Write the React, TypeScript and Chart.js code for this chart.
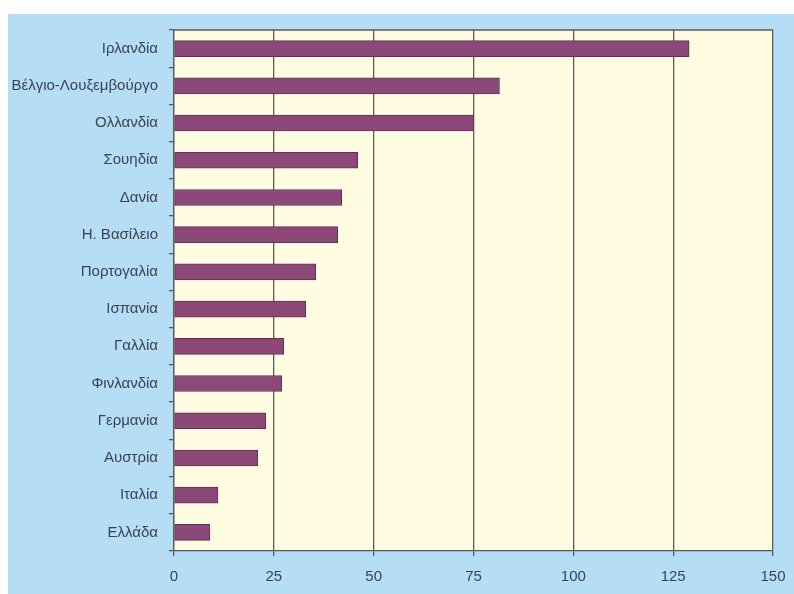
import { useEffect, useRef } from 'react';
import { Chart, registerables } from 'chart.js';

Chart.register(...registerables);

const categories = [
  'Ιρλανδία',
  'Βέλγιο-Λουξεμβούργο',
  'Ολλανδία',
  'Σουηδία',
  'Δανία',
  'Η. Βασίλειο',
  'Πορτογαλία',
  'Ισπανία',
  'Γαλλία',
  'Φινλανδία',
  'Γερμανία',
  'Αυστρία',
  'Ιταλία',
  'Ελλάδα',
];

const values = [129, 81.5, 75, 46, 42, 41, 35.5, 33, 27.5, 27, 23, 21, 11, 9];

const xTicks = [0, 25, 50, 75, 100, 125, 150];

const FONT = "'Liberation Sans Narrow', 'Liberation Sans', Arial, sans-serif";

const plotBg = {
  id: 'plotBg',
  beforeDraw(chart: any) {
    const { ctx, chartArea } = chart;
    if (!chartArea) return;
    ctx.save();
    ctx.fillStyle = '#FFFCE1';
    ctx.fillRect(chartArea.left, chartArea.top, chartArea.right - chartArea.left, chartArea.bottom - chartArea.top);
    ctx.restore();
  },
  afterDraw(chart: any) {
    const { ctx, chartArea } = chart;
    if (!chartArea) return;
    ctx.save();
    ctx.strokeStyle = '#5a5a5a';
    ctx.lineWidth = 1.3;
    ctx.beginPath();
    ctx.moveTo(chartArea.left, chartArea.top);
    ctx.lineTo(chartArea.right, chartArea.top);
    ctx.stroke();
    ctx.restore();
  },
};

export default function App() {
  const ref = useRef<HTMLCanvasElement>(null);

  useEffect(() => {
    document.body.style.margin = '0';
    const chart = new Chart(ref.current as HTMLCanvasElement, {
      type: 'bar',
      data: {
        labels: categories,
        datasets: [
          {
            data: values,
            backgroundColor: '#8B4879',
            borderColor: '#603050',
            borderWidth: 1,
            borderSkipped: false,
            barThickness: 16,
          },
        ],
      },
      options: {
        indexAxis: 'y',
        animation: false,
        responsive: false,
        maintainAspectRatio: false,
        layout: { padding: { left: 0, right: 21, top: 16, bottom: 0 } },
        plugins: { legend: { display: false }, tooltip: { enabled: false } },
        scales: {
          x: {
            min: 0,
            max: 150,
            afterBuildTicks: (s: any) => {
              s.ticks = xTicks.map((v) => ({ value: v }));
            },
            grid: { color: '#5a5a5a', lineWidth: 1.3, tickLength: 5, drawTicks: true },
            border: { display: true, color: '#5a5a5a', width: 1.3 },
            ticks: { padding: 12, color: '#3a4452', font: { family: FONT, size: 15 } },
            afterFit: (s: any) => {
              s.height = 43;
              s.paddingLeft = 0;
              s.paddingRight = 0;
            },
          },
          y: {
            grid: { offset: true, drawOnChartArea: false, tickLength: 5, color: '#5a5a5a', lineWidth: 1.3 },
            border: { display: true, color: '#5a5a5a', width: 1.3 },
            ticks: { padding: 11, color: '#3a4452', font: { family: FONT, size: 15 } },
            afterFit: (s: any) => {
              s.width = 166;
              s.paddingTop = 0;
              s.paddingBottom = 0;
            },
          },
        },
      },
      plugins: [plotBg],
    });
    return () => chart.destroy();
  }, []);

  return (
    <div style={{ position: 'relative', width: 794, height: 594, background: '#ffffff', overflow: 'hidden' }}>
      <div style={{ position: 'absolute', left: 8, top: 14, width: 786, height: 580, background: '#B5DDF5' }}>
        <canvas ref={ref} width={786} height={580} style={{ display: 'block' }} />
      </div>
    </div>
  );
}
